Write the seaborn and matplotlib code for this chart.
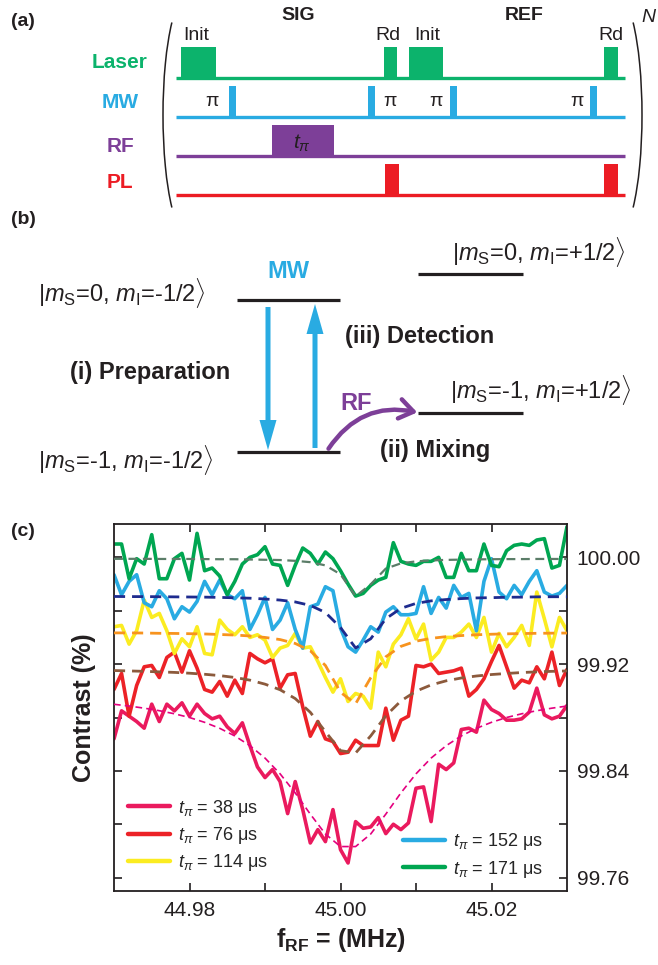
import numpy as np
import pandas as pd
import matplotlib
matplotlib.use("Agg")
import matplotlib.pyplot as plt
import matplotlib.patches as mpatches
from matplotlib.lines import Line2D
import seaborn as sns

# ---------------- data (panel c) ----------------
freq = np.round(np.linspace(44.970, 45.030, 61), 4)      # MHz, measured sweep
fit_freq = np.round(np.linspace(44.970, 45.030, 31), 4)  # MHz, fit curve sampling

series_names = ["38", "76", "114", "152", "171"]
series_labels = [r"$t_\pi$ = 38 μs", r"$t_\pi$ = 76 μs", r"$t_\pi$ = 114 μs",
                 r"$t_\pi$ = 152 μs", r"$t_\pi$ = 171 μs"]

c38 = [99.864, 99.885, 99.881, 99.877, 99.872, 99.890, 99.877, 99.890, 99.885, 99.891,
       99.881, 99.890, 99.883, 99.879, 99.881, 99.873, 99.868, 99.876, 99.859, 99.843,
       99.835, 99.841, 99.832, 99.808, 99.832, 99.811, 99.786, 99.796, 99.787, 99.811,
       99.781, 99.771, 99.802, 99.797, 99.798, 99.805, 99.793, 99.800, 99.796, 99.801,
       99.827, 99.828, 99.802, 99.845, 99.841, 99.846, 99.871, 99.872, 99.869, 99.893,
       99.886, 99.883, 99.878, 99.878, 99.879, 99.884, 99.902, 99.882, 99.879, 99.881,
       99.889]
c76 = [99.901, 99.913, 99.881, 99.904, 99.918, 99.919, 99.910, 99.925, 99.929, 99.914,
       99.930, 99.917, 99.901, 99.899, 99.907, 99.896, 99.908, 99.898, 99.928, 99.924,
       99.921, 99.924, 99.902, 99.912, 99.913, 99.888, 99.866, 99.877, 99.864, 99.862,
       99.853, 99.854, 99.863, 99.859, 99.859, 99.859, 99.887, 99.863, 99.878, 99.881,
       99.919, 99.918, 99.920, 99.913, 99.914, 99.915, 99.917, 99.896, 99.901, 99.909,
       99.922, 99.934, 99.918, 99.902, 99.908, 99.906, 99.918, 99.909, 99.929, 99.904,
       99.916]
c114 = [99.948, 99.949, 99.935, 99.945, 99.968, 99.955, 99.958, 99.945, 99.928, 99.939,
        99.933, 99.948, 99.928, 99.927, 99.953, 99.946, 99.942, 99.948, 99.940, 99.942,
        99.938, 99.925, 99.932, 99.934, 99.943, 99.932, 99.933, 99.922, 99.910, 99.899,
        99.909, 99.892, 99.898, 99.896, 99.887, 99.929, 99.918, 99.935, 99.942, 99.954,
        99.939, 99.950, 99.923, 99.929, 99.940, 99.940, 99.944, 99.950, 99.940, 99.955,
        99.929, 99.943, 99.933, 99.940, 99.949, 99.934, 99.974, 99.954, 99.933, 99.955,
        99.945]
c152 = [99.987, 99.972, 99.982, 99.987, 99.966, 99.963, 99.975, 99.969, 99.954, 99.963,
        99.959, 99.967, 99.982, 99.972, 99.983, 99.972, 99.969, 99.975, 99.946, 99.957,
        99.970, 99.946, 99.953, 99.966, 99.946, 99.932, 99.963, 99.965, 99.978, 99.975,
        99.947, 99.933, 99.929, 99.938, 99.948, 99.944, 99.959, 99.963, 99.957, 99.957,
        99.958, 99.978, 99.958, 99.970, 99.962, 99.979, 99.970, 99.973, 99.945, 99.982,
        99.999, 99.974, 99.969, 99.979, 99.972, 99.982, 99.990, 99.974, 99.971, 99.973,
        99.979]
c171 = [100.010, 100.010, 99.984, 99.999, 99.995, 100.017, 99.984, 99.984, 99.999, 100.003,
        99.983, 100.018, 99.990, 99.992, 99.986, 99.972, 99.982, 99.995, 100.000, 100.002,
        100.008, 99.995, 99.994, 99.979, 99.994, 100.007, 100.003, 99.995, 100.004, 99.999,
        99.990, 99.980, 99.971, 99.973, 99.979, 99.983, 99.985, 100.011, 99.997, 99.995,
        99.994, 99.997, 99.997, 100.000, 99.985, 99.985, 100.003, 99.990, 99.990, 100.010,
        99.994, 99.993, 100.005, 100.009, 100.010, 100.009, 100.013, 100.014, 99.992, 99.994,
        100.023]

fit38 = [99.8899, 99.8886, 99.8870, 99.8851, 99.8828, 99.8800, 99.8764, 99.8719, 99.8662, 99.8589,
         99.8496, 99.8378, 99.8235, 99.8076, 99.7927, 99.7833, 99.7833, 99.7927, 99.8076, 99.8235,
         99.8378, 99.8496, 99.8589, 99.8662, 99.8719, 99.8764, 99.8800, 99.8828, 99.8851, 99.8870,
         99.8886]
fit76 = [99.9152, 99.9149, 99.9146, 99.9142, 99.9138, 99.9132, 99.9124, 99.9114, 99.9100, 99.9080,
         99.9050, 99.9008, 99.8942, 99.8839, 99.8694, 99.8552, 99.8534, 99.8662, 99.8813, 99.8924,
         99.8997, 99.9044, 99.9075, 99.9096, 99.9111, 99.9122, 99.9130, 99.9137, 99.9142, 99.9146,
         99.9149]
fit114 = [99.9434, 99.9434, 99.9433, 99.9431, 99.9430, 99.9428, 99.9426, 99.9422, 99.9418, 99.9411,
          99.9400, 99.9384, 99.9355, 99.9300, 99.9190, 99.8989, 99.8903, 99.9098, 99.9255, 99.9333,
          99.9372, 99.9393, 99.9406, 99.9414, 99.9420, 99.9424, 99.9427, 99.9429, 99.9431, 99.9432,
          99.9433]
fit152 = [99.9707, 99.9706, 99.9706, 99.9705, 99.9704, 99.9703, 99.9702, 99.9700, 99.9697, 99.9694,
          99.9688, 99.9680, 99.9666, 99.9640, 99.9587, 99.9474, 99.9321, 99.9390, 99.9540, 99.9618,
          99.9655, 99.9674, 99.9684, 99.9691, 99.9696, 99.9698, 99.9701, 99.9702, 99.9704, 99.9705,
          99.9705]
fit171 = [99.9989, 99.9989, 99.9989, 99.9988, 99.9988, 99.9988, 99.9987, 99.9986, 99.9986, 99.9984,
          99.9982, 99.9980, 99.9974, 99.9964, 99.9940, 99.9873, 99.9708, 99.9798, 99.9916, 99.9955,
          99.9970, 99.9977, 99.9981, 99.9983, 99.9985, 99.9986, 99.9987, 99.9987, 99.9988, 99.9988,
          99.9988]

data_colors = ["#ea1a5e", "#ec2227", "#fbec21", "#29abe2", "#00a651"]
fit_colors = ["#e4007f", "#8c5a3c", "#f7931e", "#1e2b8e", "#5b7d68"]
fit_widths = [1.2, 2.0, 2.0, 2.0, 1.6]

xticks = [44.98, 44.99, 45.00, 45.01, 45.02]
xticklabels = ["44.98", "", "45.00", "", "45.02"]
yticks = [99.76, 99.80, 99.84, 99.88, 99.92, 99.96, 100.00]
yticklabels = ["99.76", "", "99.84", "", "99.92", "", "100.00"]

# ---------------- diagram content (panels a, b) ----------------
row_names = ["Laser", "MW", "RF", "PL"]
row_colors = ["#0cb36c", "#29abe2", "#7d3f98", "#ec1c24"]
row_label_y = [62, 103, 146, 183]
row_base_y = [78, 117, 156, 195]
row_top_y = [47, 86, 125, 164]
row_pulses = [
    [(181, 216), (384, 397), (409, 443), (604, 618)],
    [(229, 236), (368, 375), (450, 457), (590, 597)],
    [(272, 334)],
    [(385, 399), (604, 618)],
]
pulse_tags = [("Init", 196), ("Rd", 388), ("Init", 427), ("Rd", 611)]
pi_x = [212, 390, 436, 577]

levels = [(237, 340, 300), (237, 340, 452), (418, 523, 274), (418, 523, 413)]
state_texts = [
    (38, 293, r"|$m_{\mathrm{S}}$=0, $m_{\mathrm{I}}$=-1/2$\rangle$"),
    (38, 460, r"|$m_{\mathrm{S}}$=-1, $m_{\mathrm{I}}$=-1/2$\rangle$"),
    (452, 252, r"|$m_{\mathrm{S}}$=0, $m_{\mathrm{I}}$=+1/2$\rangle$"),
    (450, 390, r"|$m_{\mathrm{S}}$=-1, $m_{\mathrm{I}}$=+1/2$\rangle$"),
]

# ---------------- style ----------------
sns.set_theme(style="ticks")
plt.rcParams["font.family"] = ["Liberation Sans", "DejaVu Sans"]
plt.rcParams["mathtext.fontset"] = "custom"
plt.rcParams["mathtext.rm"] = "Liberation Sans"
plt.rcParams["mathtext.it"] = "Liberation Sans:italic"
plt.rcParams["mathtext.bf"] = "Liberation Sans:bold"
plt.rcParams["mathtext.fallback"] = "cm"

fig = plt.figure(figsize=(6.58, 9.65), dpi=100)
fig.patch.set_facecolor("white")

# overlay in pixel coordinates for the schematic panels
ov = fig.add_axes([0, 0, 1, 1])
ov.set_xlim(0, 658)
ov.set_ylim(965, 0)
ov.axis("off")

TXT = "#231f20"
# ---- panel (a)
ov.text(23, 22, "(a)", fontsize=14, fontweight="bold", ha="center", va="center", color=TXT)
ov.text(298, 15, "SIG", fontsize=14, fontweight="bold", ha="center", va="center", color=TXT)
ov.text(524, 15, "REF", fontsize=14, fontweight="bold", ha="center", va="center", color=TXT)
ov.text(648, 18, "N", fontsize=14, fontstyle="italic", ha="center", va="center", color=TXT)
for name, col, ly, by, ty, pulses in zip(row_names, row_colors, row_label_y, row_base_y,
                                          row_top_y, row_pulses):
    ov.text(120, ly, name, fontsize=15, fontweight="bold", color=col, ha="center", va="center")
    ov.plot([176, 625], [by, by], color=col, lw=2.4, solid_capstyle="butt")
    for x0, x1 in pulses:
        ov.add_patch(mpatches.Rectangle((x0, ty), x1 - x0, by - ty, color=col, lw=0))
for tag, tx in pulse_tags:
    ov.text(tx, 36, tag, fontsize=14, ha="center", va="center", color=TXT)
for px in pi_x:
    ov.text(px, 102, "π", fontsize=14, ha="center", va="center", color=TXT)
ov.text(302, 143, r"$t_\pi$", fontsize=15, ha="center", va="center", color=TXT)
ov.add_patch(mpatches.Arc((188.2, 115), 50.4, 242.8, theta1=100, theta2=260, color=TXT, lw=1.1))
ov.add_patch(mpatches.Arc((616.8, 115), 50.4, 242.8, theta1=-80, theta2=80, color=TXT, lw=1.1))

# ---- panel (b)
ov.text(23, 219, "(b)", fontsize=14, fontweight="bold", ha="center", va="center", color=TXT)
for x0, x1, y in levels:
    ov.plot([x0, x1], [y, y], color=TXT, lw=2.3, solid_capstyle="butt")
for x, y, s in state_texts:
    ov.text(x, y, s, fontsize=17, ha="left", va="center", color=TXT)
ov.text(288, 272, "MW", fontsize=17, fontweight="bold", color="#29abe2", ha="center", va="center")
ov.add_patch(mpatches.FancyArrow(268, 307, 0, 143, width=5, head_width=17, head_length=30,
                                 length_includes_head=True, color="#29abe2", lw=0))
ov.add_patch(mpatches.FancyArrow(315, 448, 0, -144, width=5, head_width=17, head_length=30,
                                 length_includes_head=True, color="#29abe2", lw=0))
ov.text(70, 372, "(i) Preparation", fontsize=17, fontweight="bold", ha="left", va="center", color=TXT)
ov.text(345, 336, "(iii) Detection", fontsize=17, fontweight="bold", ha="left", va="center", color=TXT)
ov.text(380, 450, "(ii) Mixing", fontsize=17, fontweight="bold", ha="left", va="center", color=TXT)
ov.text(356, 403, "RF", fontsize=17, fontweight="bold", color="#7d3f98", ha="center", va="center")
ov.add_patch(mpatches.FancyArrowPatch((327, 451), (420, 413), connectionstyle="arc3,rad=-0.35",
                                      arrowstyle="->,head_length=0.5,head_width=0.35",
                                      mutation_scale=20, lw=3.2, color="#7d3f98"))

# ---- panel (c)
ov.text(23, 531, "(c)", fontsize=14, fontweight="bold", ha="center", va="center", color=TXT)

ax = fig.add_axes([114 / 658, 1 - 891 / 965, 453 / 658, 367 / 965])
df = pd.DataFrame({
    "freq": np.tile(freq, 5),
    "contrast": np.concatenate([c38, c76, c114, c152, c171]),
    "series": np.repeat(series_names, len(freq)),
})
sns.lineplot(data=df, x="freq", y="contrast", hue="series", hue_order=series_names,
             palette=dict(zip(series_names, data_colors)), estimator=None, sort=False,
             lw=2.6, legend=False, ax=ax)
for fit, col, w in zip([fit38, fit76, fit114, fit152, fit171], fit_colors, fit_widths):
    sns.lineplot(x=fit_freq, y=fit, color=col, lw=w, linestyle=(0, (4, 2.5)), ax=ax, zorder=3)

ax.set_xlim(44.97, 45.03)
ax.set_ylim(99.75, 100.025)
ax.set_xticks(xticks)
ax.set_xticklabels(xticklabels)
ax.set_yticks(yticks)
ax.set_yticklabels(yticklabels)
ax.tick_params(direction="in", length=6, width=1.2, top=True, bottom=True, left=True, right=True,
               labelleft=False, labelright=True, labelsize=15, pad=7, colors=TXT)
for sp in ax.spines.values():
    sp.set_linewidth(1.3)
    sp.set_color(TXT)
ax.set_facecolor("white")
ax.yaxis.set_label_position("left")
ax.set_ylabel("Contrast (%)", fontsize=18, fontweight="bold", color=TXT)
ax.yaxis.set_label_coords(-0.04, 0.5)
ax.set_xlabel(r"f$_{\mathbf{RF}}$ = (MHz)", fontsize=18, fontweight="bold", color=TXT)
ax.xaxis.set_label_coords(0.5, -0.095)

h1 = [Line2D([0], [0], color=c, lw=3.2) for c in data_colors[:3]]
leg1 = ax.legend(h1, series_labels[:3], loc="center left",
                 bbox_to_anchor=(128 / 658, 1 - 835.5 / 965), bbox_transform=fig.transFigure,
                 frameon=False, fontsize=13, handlelength=2.3, handletextpad=0.45,
                 labelspacing=0.35, borderpad=0, borderaxespad=0)
ax.add_artist(leg1)
h2 = [Line2D([0], [0], color=c, lw=3.2) for c in data_colors[3:]]
ax.legend(h2, series_labels[3:], loc="center left",
          bbox_to_anchor=(403 / 658, 1 - 855.5 / 965), bbox_transform=fig.transFigure,
          frameon=False, fontsize=13, handlelength=2.3, handletextpad=0.45,
          labelspacing=0.35, borderpad=0, borderaxespad=0)

fig.savefig("out.png", dpi=100, facecolor="white")
